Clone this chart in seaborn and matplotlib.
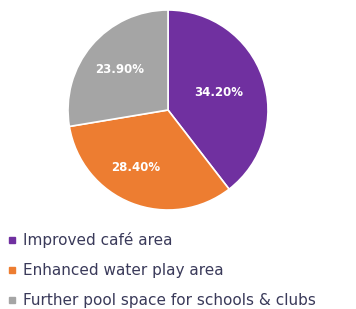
import numpy as np
import matplotlib
matplotlib.use("Agg")
import matplotlib.pyplot as plt
from matplotlib.lines import Line2D
import seaborn as sns

categories = ["Improved café area", "Enhanced water play area", "Further pool space for schools & clubs"]
values = [34.20, 28.40, 23.90]
labels = ["34.20%", "28.40%", "23.90%"]
colors = ["#7030A0", "#ED7D31", "#A5A5A5"]

sns.set_theme(style="white")
plt.rcParams['font.family'] = ['DejaVu Sans']

W, H = 356, 309
fig = plt.figure(figsize=(W/100, H/100), dpi=100)
fig.patch.set_facecolor("white")
cx, cy, r = 168, 110, 100
ax = fig.add_axes([(cx-r)/W, (H-cy-r)/H, 2*r/W, 2*r/H])
wedges, _ = ax.pie(values, colors=colors, startangle=90, counterclock=False,
                   wedgeprops=dict(edgecolor="white", linewidth=1.2), radius=1.0)
ax.set_xlim(-1, 1); ax.set_ylim(-1, 1)
ax.set_aspect("equal")
ax.axis("off")

dists = [0.54, 0.66, 0.63]
offs = [0, -8, 0]
for w, lab, d, o in zip(wedges, labels, dists, offs):
    ang = np.deg2rad((w.theta1 + w.theta2) / 2 + o)
    ax.text(d*np.cos(ang), d*np.sin(ang), lab, ha="center", va="center",
            color="white", fontsize=8.5, fontweight="bold")

handles = [Line2D([0], [0], marker="s", linestyle="none", markersize=4,
                  markerfacecolor=c, markeredgecolor=c) for c in colors]
fig.legend(handles, categories, loc="upper left", bbox_to_anchor=(0.005, 1 - 226/H),
           frameon=False, fontsize=11, labelspacing=0.98, handlelength=0.6,
           handletextpad=0.4, labelcolor="#3a3a5a", borderaxespad=0)

fig.savefig("out.png", dpi=100, facecolor="white")
